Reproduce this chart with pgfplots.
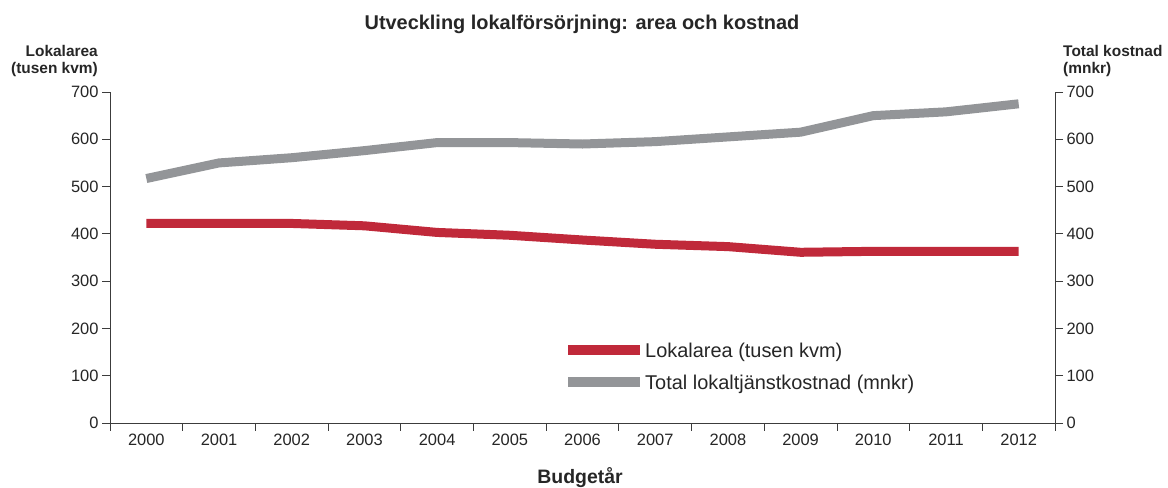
\documentclass[border=0pt]{standalone}
\usepackage{fontspec}
\setmainfont{Liberation Sans}
\usepackage{pgfplots}
\pgfplotsset{compat=1.18}
\definecolor{cred}{HTML}{C0293A}
\definecolor{cgray}{HTML}{939598}
\definecolor{axc}{HTML}{3C3C3C}
\begin{document}
\begin{tikzpicture}[x=1bp,y=1bp]
\useasboundingbox (-110,-65) rectangle (1058,423);
\begin{axis}[
  at={(0,0)}, anchor=south west,
  scale only axis, width=945bp, height=331bp,
  xmin=-0.5, xmax=12.5, ymin=0, ymax=700,
  axis y line*=left, axis x line*=bottom,
  axis line style={axc, line width=0.8bp},
  every tick/.style={axc, line width=0.8bp},
  tick align=outside,
  major tick length=8bp, minor tick length=8bp,
  xtick={0,...,12},
  xticklabels={2000,2001,2002,2003,2004,2005,2006,2007,2008,2009,2010,2011,2012},
  major x tick style={draw=none},
  minor xtick={-0.5,0.5,1.5,2.5,3.5,4.5,5.5,6.5,7.5,8.5,9.5,10.5,11.5,12.5},
  ytick={0,100,...,700},
  /pgf/number format/assume math mode=true,
  tick label style={font=\fontsize{16.5}{20}\selectfont, text=black!85},
  legend style={draw=none, fill=none, at={(rel axis cs:0.4794,0.2417)}, anchor=north west,
    inner sep=0pt, row sep=14.5bp, font=\fontsize{20}{22}\selectfont,
    nodes={inner sep=0pt, text height=14bp, text depth=4bp, text=black!85},
    /tikz/every even column/.append style={column sep=11bp}},
  legend cell align=left,
  legend image code/.code={\draw[line width=10bp] (0bp,2.5bp) -- (72bp,2.5bp);},
]
\addplot[cred, line width=9bp] coordinates {
 (0,422) (1,422) (2,422) (3,417) (4,403) (5,397) (6,387) (7,378) (8,373) (9,361) (10,363) (11,363) (12,363)};
\addlegendentry{Lokalarea (tusen kvm)}
\addplot[cgray, line width=9bp] coordinates {
 (0,517) (1,550) (2,561) (3,576) (4,593) (5,593) (6,590) (7,595) (8,605) (9,615) (10,650) (11,658) (12,675)};
\addlegendentry{Total lokaltjänstkostnad (mnkr)}
\end{axis}
\begin{axis}[
  at={(0,0)}, anchor=south west,
  scale only axis, width=945bp, height=331bp,
  xmin=-0.5, xmax=12.5, ymin=0, ymax=700,
  axis y line*=right, axis x line=none,
  axis line style={axc, line width=0.8bp},
  every tick/.style={axc, line width=0.8bp},
  tick align=outside, major tick length=8bp,
  ytick={0,100,...,700},
  /pgf/number format/assume math mode=true,
  tick label style={font=\fontsize{16.5}{20}\selectfont, text=black!85},
]
\end{axis}
\node[anchor=base, inner sep=0pt, font=\fontsize{20}{24}\selectfont\bfseries, text=black!85] at (472,393) {Utveckling lokalförsörjning: area och kostnad};
\node[anchor=base east, align=right, inner sep=0pt, font=\fontsize{15.5}{18}\selectfont\bfseries, text=black!85] at (-12,349) {Lokalarea\\(tusen kvm)};
\node[anchor=base west, align=left, inner sep=0pt, font=\fontsize{15.5}{18}\selectfont\bfseries, text=black!85] at (953,349) {Total kostnad\\(mnkr)};
\node[anchor=base, inner sep=0pt, font=\fontsize{19.5}{22}\selectfont\bfseries, text=black!85] at (470,-61) {Budgetår};
\end{tikzpicture}
\end{document}
